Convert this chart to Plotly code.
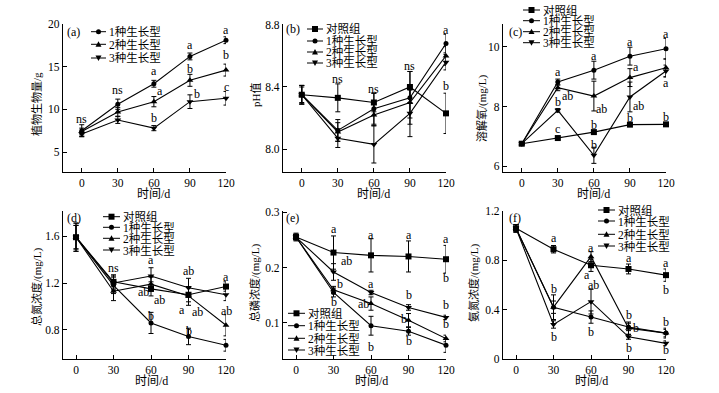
import plotly.graph_objects as go

W, H = 719, 393

days = [0, 30, 60, 90, 120]
names = ["对照组", "1种生长型", "2种生长型", "3种生长型"]
x_ticks = [0, 30, 60, 90, 120]
x_tick_text = ["0", "30", "60", "90", "120"]

# (a) 植物生物量/g  (no control group)
a_g1 = [7.5, 10.6, 13.0, 16.2, 18.1]
a_g1_err = [0.7, 0.6, 0.4, 0.4, 0.4]
a_g2 = [7.4, 9.7, 10.9, 13.4, 14.6]
a_g2_err = [0.4, 0.5, 0.6, 0.7, 0.7]
a_g3 = [7.1, 8.75, 7.8, 10.9, 11.3]
a_g3_err = [0.3, 0.4, 0.3, 0.8, 0.8]
a_ticks = [5, 10, 15, 20]
a_tick_text = ["5", "10", "15", "20"]

# (b) pH值
b_ck = [8.35, 8.33, 8.30, 8.40, 8.23]
b_ck_err = [0.06, 0.09, 0.06, 0.10, 0.13]
b_g1 = [8.35, 8.12, 8.26, 8.33, 8.68]
b_g1_err = [0.06, 0.07, 0.10, 0.17, 0.06]
b_g2 = [8.35, 8.11, 8.22, 8.30, 8.60]
b_g2_err = [0.06, 0.06, 0.07, 0.10, 0.06]
b_g3 = [8.35, 8.07, 8.03, 8.23, 8.56]
b_g3_err = [0.05, 0.06, 0.12, 0.15, 0.05]
b_ticks = [8.0, 8.4, 8.8]
b_tick_text = ["8.0", "8.4", "8.8"]

# (c) 溶解氧/(mg/L)
c_ck = [6.75, 6.94, 7.14, 7.39, 7.40]
c_ck_err = [0.03, 0.04, 0.04, 0.03, 0.04]
c_g1 = [6.75, 8.82, 9.22, 9.69, 9.94]
c_g1_err = [0.03, 0.10, 0.30, 0.30, 0.35]
c_g2 = [6.75, 8.63, 8.35, 8.97, 9.30]
c_g2_err = [0.03, 0.10, 0.50, 0.30, 0.30]
c_g3 = [6.75, 7.87, 6.36, 8.32, 9.19]
c_g3_err = [0.03, 0.06, 0.27, 0.50, 0.20]
c_ticks = [6, 8, 10]
c_tick_text = ["6", "8", "10"]

# (d) 总氮浓度/(mg/L)
d_ck = [1.59, 1.21, 1.15, 1.10, 1.17]
d_ck_err = [0.12, 0.06, 0.06, 0.06, 0.04]
d_g1 = [1.59, 1.18, 0.86, 0.745, 0.67]
d_g1_err = [0.12, 0.07, 0.09, 0.07, 0.05]
d_g2 = [1.59, 1.13, 1.19, 1.09, 0.84]
d_g2_err = [0.10, 0.08, 0.06, 0.08, 0.09]
d_g3 = [1.59, 1.20, 1.26, 1.16, 1.10]
d_g3_err = [0.10, 0.06, 0.07, 0.08, 0.05]
d_ticks = [0.8, 1.2, 1.6]
d_tick_text = ["0.8", "1.2", "1.6"]

# (e) 总磷浓度/(mg/L)
e_ck = [0.255, 0.227, 0.222, 0.220, 0.215]
e_ck_err = [0.007, 0.030, 0.030, 0.028, 0.025]
e_g1 = [0.255, 0.155, 0.095, 0.085, 0.060]
e_g1_err = [0.005, 0.008, 0.017, 0.007, 0.013]
e_g2 = [0.255, 0.160, 0.135, 0.105, 0.072]
e_g2_err = [0.005, 0.006, 0.012, 0.012, 0.006]
e_g3 = [0.255, 0.192, 0.155, 0.128, 0.110]
e_g3_err = [0.005, 0.015, 0.004, 0.005, 0.004]
e_ticks = [0.1, 0.2, 0.3]
e_tick_text = ["0.1", "0.2", "0.3"]

# (f) 氨氮浓度/(mg/L)
f_ck = [1.06, 0.89, 0.76, 0.73, 0.68]
f_ck_err = [0.03, 0.03, 0.05, 0.04, 0.05]
f_g1 = [1.06, 0.42, 0.34, 0.26, 0.21]
f_g1_err = [0.03, 0.05, 0.05, 0.03, 0.03]
f_g2 = [1.06, 0.42, 0.83, 0.25, 0.21]
f_g2_err = [0.03, 0.10, 0.04, 0.05, 0.04]
f_g3 = [1.06, 0.28, 0.465, 0.18, 0.127]
f_g3_err = [0.03, 0.03, 0.10, 0.02, 0.02]
f_ticks = [0, 0.4, 0.8, 1.2]
f_tick_text = ["0", "0.4", "0.8", "1.2"]

# significance letters (text, day, value) per panel
a_sig = [("ns", 0, 8.9), ("ns", 30, 12.3), ("a", 60, 14.5), ("a", 65, 12.1), ("b", 60, 9.0),
         ("a", 90, 17.5), ("b", 90, 14.7), ("b", 96, 11.8), ("a", 120, 19.3), ("b", 120, 16.4),
         ("c", 120, 12.6)]
b_sig = [("ns", 30, 8.45), ("ns", 60, 8.39), ("ns", 90, 8.535), ("a", 120, 8.77),
         ("a", 127, 8.635), ("a", 127, 8.516), ("b", 120, 8.406)]
c_sig = [("a", 30, 9.16), ("ab", 38, 8.35), ("b", 30, 8.15), ("c", 30, 7.25),
         ("a", 60, 9.69), ("ab", 66, 7.93), ("b", 60, 7.37), ("b", 60, 6.72),
         ("a", 90, 10.17), ("a", 95, 9.33), ("ab", 97, 8.0), ("b", 90, 7.61),
         ("a", 120, 10.45), ("a", 125, 9.64), ("a", 120, 8.79), ("b", 120, 7.65)]
d_sig = [("ns", 30, 1.332), ("a", 60, 1.394), ("ab", 54, 1.121), ("ab", 67, 1.056),
         ("b", 60, 0.915), ("ab", 90, 1.30), ("a", 85, 0.972), ("ab", 97, 0.952),
         ("b", 90, 0.789), ("a", 120, 1.254), ("a", 125, 1.132), ("ab", 120, 0.963),
         ("b", 125, 0.718)]
e_sig = [("a", 30, 0.27), ("ab", 40, 0.211), ("b", 35, 0.171), ("b", 30, 0.137),
         ("a", 60, 0.259), ("a", 60, 0.171), ("ab", 54, 0.135), ("b", 60, 0.057),
         ("a", 90, 0.259), ("b", 90, 0.15), ("b", 86, 0.107), ("b", 90, 0.067),
         ("a", 120, 0.252), ("b", 120, 0.181), ("b", 120, 0.132), ("b", 120, 0.099)]
f_sig = [("a", 30, 0.978), ("b", 30, 0.565), ("b", 30, 0.181),
         ("a", 60, 0.903), ("a", 57, 0.681), ("ab", 62, 0.6), ("b", 60, 0.222),
         ("a", 90, 0.816), ("b", 90, 0.357), ("b", 96, 0.249), ("b", 90, 0.086),
         ("a", 120, 0.776), ("b", 120, 0.559), ("b", 120, 0.303), ("b", 120, 0.073)]

SERIF = "Liberation Serif, Times New Roman, serif"
CJK = "Liberation Serif, Noto Sans CJK SC, serif"
symbols = ["square", "circle", "triangle-up", "triangle-down"]
msizes = [6, 5, 6, 6]

panels = [
    dict(tag="(a)", ytitle="植物生物量/g", data=[None, (a_g1, a_g1_err), (a_g2, a_g2_err), (a_g3, a_g3_err)],
         ticks=a_ticks, ttext=a_tick_text, yr=[2.66, 20.0], xr=[-15.6, 120], sig=a_sig,
         xdom=(63, 226), ydom=(172, 24), tagpos=(73, 32), ytx=37, yty=104,
         leg=dict(x0=91, x1=106, ys=[None, 31.7, 44.3, 58.0])),
    dict(tag="(b)", ytitle="pH值", data=[(b_ck, b_ck_err), (b_g1, b_g1_err), (b_g2, b_g2_err), (b_g3, b_g3_err)],
         ticks=b_ticks, ttext=b_tick_text, yr=[7.852, 8.806], xr=[-15.6, 120], sig=b_sig,
         xdom=(283, 446), ydom=(172, 24), tagpos=(293, 29), ytx=256, yty=95,
         leg=dict(x0=307, x1=323, ys=[29, 41, 52, 63])),
    dict(tag="(c)", ytitle="溶解氧/(mg/L)", data=[(c_ck, c_ck_err), (c_g1, c_g1_err), (c_g2, c_g2_err), (c_g3, c_g3_err)],
         ticks=c_ticks, ttext=c_tick_text, yr=[5.8, 10.77], xr=[-15.6, 120], sig=c_sig,
         xdom=(503, 666), ydom=(172, 24), tagpos=(515, 32), ytx=482, yty=108,
         leg=dict(x0=523, x1=540, ys=[10, 20.7, 31.7, 42.7])),
    dict(tag="(d)", ytitle="总氮浓度/(mg/L)", data=[(d_ck, d_ck_err), (d_g1, d_g1_err), (d_g2, d_g2_err), (d_g3, d_g3_err)],
         ticks=d_ticks, ttext=d_tick_text, yr=[0.553, 1.813], xr=[-10.4, 120], sig=d_sig,
         xdom=(63, 226), ydom=(359, 211), tagpos=(74, 218), ytx=37, yty=287,
         leg=dict(x0=103, x1=120, ys=[216.7, 227.3, 238.3, 250])),
    dict(tag="(e)", ytitle="总磷浓度/(mg/L)", data=[(e_ck, e_ck_err), (e_g1, e_g1_err), (e_g2, e_g2_err), (e_g3, e_g3_err)],
         ticks=e_ticks, ttext=e_tick_text, yr=[0.035, 0.302], xr=[-10.4, 120], sig=e_sig,
         xdom=(283, 446), ydom=(359, 211), tagpos=(292, 218), ytx=255, yty=283,
         leg=dict(x0=288, x1=305, ys=[313.3, 325.7, 338.3, 350])),
    dict(tag="(f)", ytitle="氨氮浓度/(mg/L)", data=[(f_ck, f_ck_err), (f_g1, f_g1_err), (f_g2, f_g2_err), (f_g3, f_g3_err)],
         ticks=f_ticks, ttext=f_tick_text, yr=[0.0, 1.2], xr=[-10.4, 120], sig=f_sig,
         xdom=(503, 666), ydom=(359, 211), tagpos=(515, 218), ytx=474, yty=283,
         leg=dict(x0=598, x1=615, ys=[210, 221, 234.3, 246])),
]


def px(x):
    return x / W


def py(y):
    return 1 - y / H


def ann(text, x, y, xref, yref, size=12, family=SERIF, xanchor="center", **kw):
    return dict(text=text, x=x, y=y, xref=xref, yref=yref, showarrow=False, xanchor=xanchor,
                yanchor="middle", font=dict(family=family, size=size, color="black"), **kw)


fig = go.Figure()
annotations = []
shapes = []

for i, p in enumerate(panels):
    n = "" if i == 0 else str(i + 1)
    xa, ya = "x" + n, "y" + n
    axis_common = dict(showline=True, linecolor="black", linewidth=1.2, ticks="inside", ticklen=4,
                       tickwidth=1, tickcolor="black", showgrid=False, zeroline=False, automargin=False,
                       tickfont=dict(family=SERIF, size=11.5, color="black"), fixedrange=True)
    fig.layout["xaxis" + n] = dict(domain=[px(p["xdom"][0]), px(p["xdom"][1])], range=p["xr"],
                                   anchor=ya, tickvals=x_ticks, ticktext=x_tick_text, **axis_common)
    fig.layout["yaxis" + n] = dict(domain=[py(p["ydom"][0]), py(p["ydom"][1])], range=p["yr"],
                                   anchor=xa, tickvals=p["ticks"], ticktext=p["ttext"], **axis_common)
    for k, ser in enumerate(p["data"]):
        if ser is None:
            continue
        vals, errs = ser
        fig.add_trace(go.Scatter(
            x=days, y=vals, xaxis=xa, yaxis=ya, mode="lines+markers", name=names[k],
            showlegend=False, cliponaxis=False, hoverinfo="skip",
            line=dict(color="black", width=1.1),
            marker=dict(symbol=symbols[k], size=msizes[k], color="black"),
            error_y=dict(type="data", array=errs, visible=True, color="black", thickness=1, width=2.5),
        ))
    # significance letters
    for txt, xv, yv in p["sig"]:
        annotations.append(ann(txt, xv, yv, xa, ya))
    # panel tag
    annotations.append(ann(p["tag"], px(p["tagpos"][0]), py(p["tagpos"][1]), "paper", "paper"))
    # x-axis title
    xt_y = 194 if p["ydom"][0] < 200 else 381
    annotations.append(ann("时间/d", 60, py(xt_y), xa, "paper", family=CJK))
    # y-axis title
    annotations.append(ann(p["ytitle"], px(p["ytx"]), py(p["yty"]), "paper", "paper", family=CJK,
                           size=11, textangle=-90))
    # hand-made compact legend
    lg = p["leg"]
    for k, yy in enumerate(lg["ys"]):
        if yy is None:
            continue
        x0, x1 = lg["x0"], lg["x1"]
        xm = (x0 + x1) / 2
        shapes.append(dict(type="line", xref="paper", yref="paper", x0=px(x0), x1=px(x1), y0=py(yy), y1=py(yy),
                           line=dict(color="black", width=1)))
        s = msizes[k] / 2
        if symbols[k] == "square":
            shapes.append(dict(type="rect", xref="paper", yref="paper", x0=px(xm - s), x1=px(xm + s),
                               y0=py(yy - s), y1=py(yy + s), fillcolor="black", line=dict(width=0)))
        elif symbols[k] == "circle":
            shapes.append(dict(type="circle", xref="paper", yref="paper", x0=px(xm - s), x1=px(xm + s),
                               y0=py(yy - s), y1=py(yy + s), fillcolor="black", line=dict(width=0)))
        else:
            d = -1 if symbols[k] == "triangle-up" else 1
            path = "M {:.5f},{:.5f} L {:.5f},{:.5f} L {:.5f},{:.5f} Z".format(
                px(xm - s), py(yy - d * s * 0.8), px(xm + s), py(yy - d * s * 0.8), px(xm), py(yy + d * s))
            shapes.append(dict(type="path", xref="paper", yref="paper", path=path, fillcolor="black",
                               line=dict(width=0)))
        annotations.append(ann(names[k], px(x1 + 1), py(yy), "paper", "paper", family=CJK, size=11.5,
                               xanchor="left"))

fig.update_layout(width=W, height=H, margin=dict(l=0, r=0, t=0, b=0, pad=0, autoexpand=False),
                  paper_bgcolor="white", plot_bgcolor="white", showlegend=False,
                  annotations=annotations, shapes=shapes)

fig.write_html("out.html", config={"displayModeBar": False},
               post_script="document.body.style.margin='0';document.body.style.padding='0';")
